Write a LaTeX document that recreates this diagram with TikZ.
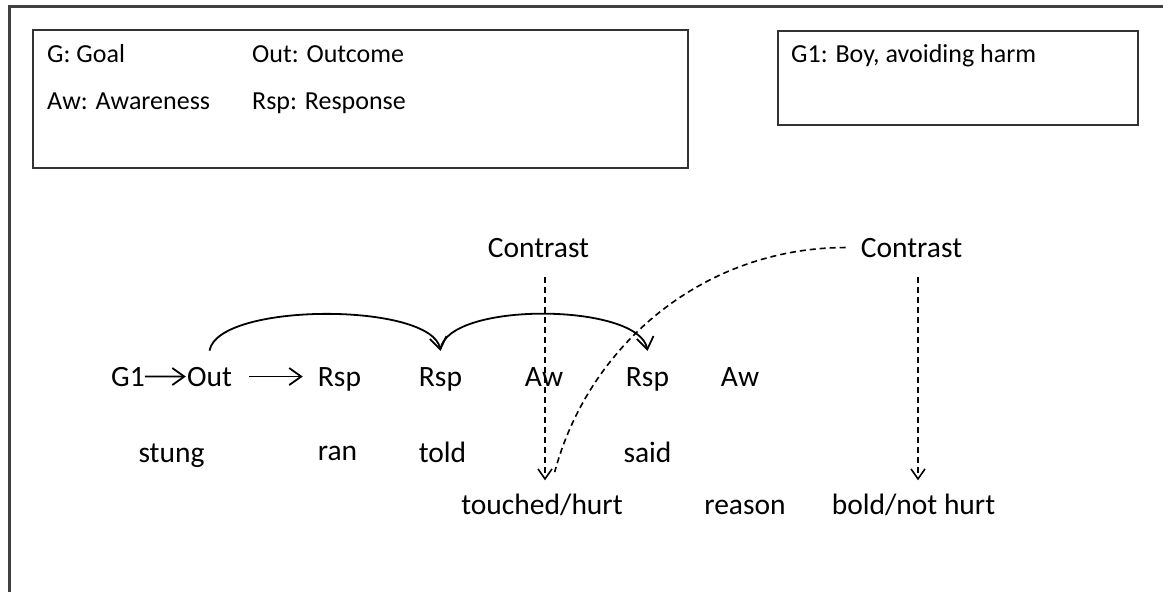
\documentclass[tikz,border=0pt]{standalone}
\usepackage{fontspec}
\setmainfont{Carlito}
\usetikzlibrary{arrows.meta}
\newcommand{\wordsize}{\fontsize{29.5pt}{35pt}\selectfont}
\newcommand{\legsize}{\fontsize{26pt}{31pt}\selectfont}
\begin{document}
\begin{tikzpicture}[x=1pt, y=-1pt,
  word/.style={inner sep=0pt, anchor=base, font=\wordsize, text=black},
  legend/.style={inner sep=0pt, anchor=base west, font=\legsize, text=black},
  link/.style={line width=1.8pt, -{Straight Barb[length=12pt,width=17pt]}},
  contrastline/.style={line width=1.6pt, dash pattern=on 6pt off 4pt},
  box/.style={line width=2.4pt, draw=black!80},
  frame/.style={line width=3pt, draw=black!75}]
\useasboundingbox (0,0) rectangle (1163,592);
\draw[frame] (1163,6) -- (9,6) -- (9,592);
\draw[box] (33,30) rectangle (688,168);
\draw[box] (778,31) rectangle (1138,125);
\node[legend] (goal) at (47,62) {G: Goal};
\node[legend] (aware) at (47,109) {Aw: Awareness};
\node[legend] (outc) at (252,62) {Out: Outcome};
\node[legend] (resp) at (252,109) {Rsp: Response};
\node[legend] (g1key) at (791,62) {G1: Boy, avoiding harm};

\node[word] (g1) at (128,386) {G1};
\node[word] (out) at (209.5,386) {Out};
\node[word] (rsp1) at (339.5,386) {Rsp};
\node[word] (rsp2) at (440.5,386) {Rsp};
\node[word] (aw1) at (544,386) {Aw};
\node[word] (rsp3) at (647.5,386) {Rsp};
\node[word] (aw2) at (740,386) {Aw};
\node[word] (stung) at (171.5,462) {stung};
\node[word] (ran) at (337.5,460) {ran};
\node[word] (told) at (442.5,462) {told};
\node[word] (said) at (647.5,462) {said};
\node[word] (touched) at (542,514) {touched/hurt};
\node[word] (reason) at (745,514) {reason};
\node[word] (boldnot) at (913.5,514) {bold/not hurt};
\node[word] (con1) at (538.5,257) {Contrast};
\node[word] (con2) at (911.5,257) {Contrast};

\draw[link, shorten >=1pt] (g1) -- (out);
\draw[link, shorten <=17pt, shorten >=15pt] (out.east) -- (out.east -| rsp1.west);
\draw[link] ([yshift=16pt]out.north) to[out=80, in=100, looseness=0.55] ([yshift=16pt]rsp2.north);
\draw[link] ([yshift=18pt]rsp2.north) to[out=80, in=100, looseness=0.6] ([yshift=16pt]rsp3.north);
\draw[contrastline, -{Straight Barb[length=10pt,width=14pt]}, shorten <=20pt, shorten >=13pt]
  ([xshift=6.5pt]con1.south) -- ([xshift=6.5pt]con1.south |- touched.north);
\draw[contrastline, -{Straight Barb[length=10pt,width=14pt]}, shorten <=20pt, shorten >=13pt]
  ([xshift=6.5pt]con2.south) -- ([xshift=6.5pt]con2.south |- boldnot.north);
\draw[contrastline, shorten <=15pt, shorten >=22pt] (con2.west) to[out=180, in=75] ([xshift=7pt]touched.north);
\end{tikzpicture}
\end{document}
